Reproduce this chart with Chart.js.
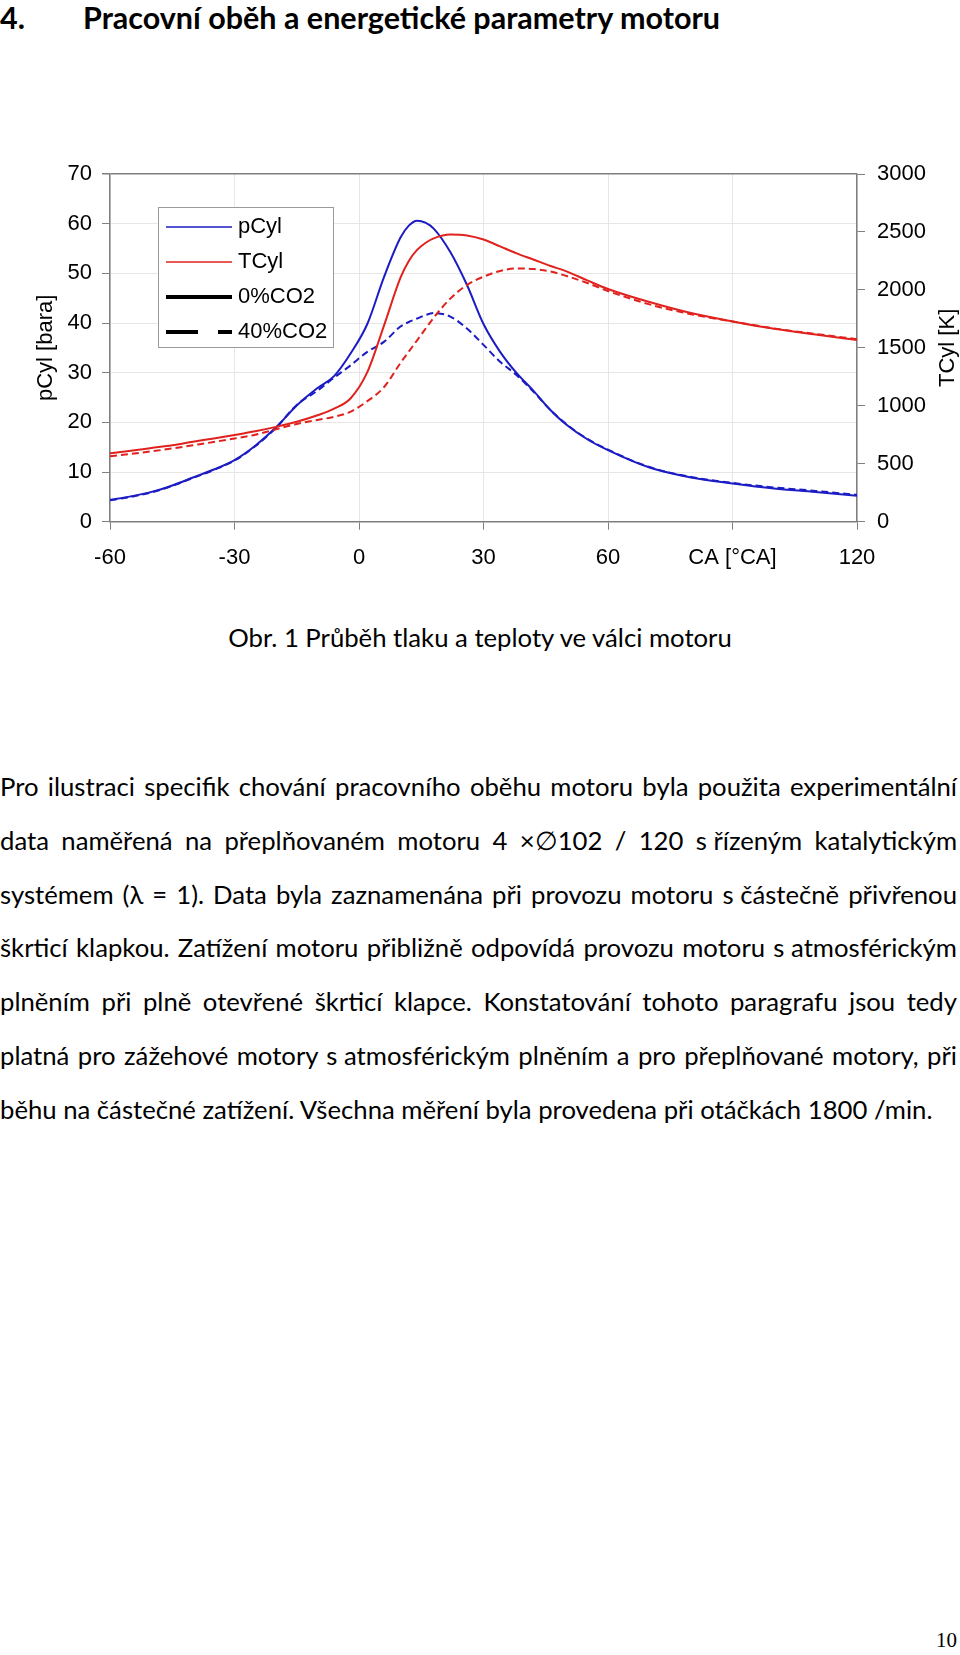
<!DOCTYPE html>
<html lang="cs">
<head>
<meta charset="utf-8">
<title>Pracovní oběh a energetické parametry motoru</title>
<script src="https://cdn.jsdelivr.net/npm/chart.js@4.4.1/dist/chart.umd.min.js"></script>
<style>
  html, body { margin: 0; padding: 0; background: #fff; }
  body { position: relative; width: 960px; height: 1655px; overflow: hidden; font-family: Lato, "Open Sans", sans-serif; color: #000; }
  .heading { position: absolute; top: 0; left: 0; width: 960px; font-weight: bold; font-size: 30.5px; line-height: 34px; }
  .heading .num { position: absolute; left: 0; top: 0; }
  .heading .txt { position: absolute; left: 83px; top: 0; white-space: nowrap; }
  #chartBox { position: absolute; left: 0; top: 140px; width: 960px; height: 440px; }
  .caption { position: absolute; top: 621px; left: 0; width: 960px; text-align: center; font-size: 25.7px; line-height: 32px; }
  .para { position: absolute; left: 0; top: 760px; width: 957px; font-size: 25.7px; line-height: 53.8px; }
  .para div { text-align: justify; text-align-last: justify; }
  .para div.last { text-align: left; text-align-last: left; }
  .para span.nb { display: inline-block; white-space: nowrap; }
  .pageno { position: absolute; right: 3px; top: 1628px; font-family: "Liberation Serif", serif; font-size: 21px; line-height: 24px; }
</style>
</head>
<body>

<div class="heading"><span class="num">4.</span><span class="txt">Pracovní oběh a energetické parametry motoru</span></div>

<div id="chartBox"><canvas id="cycleChart" width="960" height="440"></canvas></div>

<div class="caption">Obr. 1 Průběh tlaku a teploty ve válci motoru</div>

<div class="para">
  <div>Pro ilustraci specifik chování pracovního oběhu motoru byla použita experimentální</div>
  <div>data naměřená na přeplňovaném motoru 4 ×∅102 / 120 <span class="nb">s řízeným</span> katalytickým</div>
  <div>systémem (λ = 1). Data byla zaznamenána při provozu motoru <span class="nb">s částečně</span> přivřenou</div>
  <div>škrticí klapkou. Zatížení motoru přibližně odpovídá provozu motoru <span class="nb">s atmosférickým</span></div>
  <div>plněním při plně otevřené škrticí klapce. Konstatování tohoto paragrafu jsou tedy</div>
  <div>platná pro zážehové motory <span class="nb">s atmosférickým</span> plněním a pro přeplňované motory, při</div>
  <div class="last">běhu na částečné zatížení. Všechna měření byla provedena při otáčkách 1800 /min.</div>
</div>

<div class="pageno">10</div>

<script>
// ============================================
// Průběh tlaku a teploty ve válci
// ============================================

// úhel natočení klikového hřídele [°CA]
const crankAngle = [-60, -55, -50, -45, -40, -35, -30, -25, -20, -15, -10, -6, -2, 2, 6, 10, 12, 14, 16, 18,
                    22, 26, 30, 34, 38, 42, 46, 50, 55, 60, 70, 80, 90, 100, 110, 120];

// tlak ve válci [bara]
const pCyl0 = [4.4, 5.1, 6.0, 7.3, 8.9, 10.5, 12.4, 15.3, 19.0, 23.4, 26.9, 29.3, 33.9, 39.8, 49.2, 57.2, 59.6, 60.6, 60.2, 59.0,
               54.3, 47.7, 39.8, 34.2, 29.9, 26.4, 22.6, 19.5, 16.6, 14.4, 10.9, 8.9, 7.7, 6.7, 6.0, 5.2];
const pCyl40 = [4.3, 5.0, 5.9, 7.2, 8.8, 10.4, 12.3, 15.2, 18.9, 23.5, 26.4, 29.0, 31.5, 34.2, 36.2, 39.3, 40.2, 40.9, 41.6, 42.0,
                41.3, 38.9, 35.6, 32.2, 29.5, 26.2, 22.6, 19.6, 16.7, 14.5, 11.0, 9.0, 7.8, 6.9, 6.2, 5.4];

// teplota ve válci [K]
const tCyl0 = [590, 612, 636, 660, 690, 718, 748, 780, 818, 862, 918, 975, 1065, 1290, 1690, 2105, 2250, 2345, 2405, 2445,
               2478, 2470, 2435, 2375, 2315, 2262, 2208, 2160, 2082, 2008, 1895, 1800, 1728, 1665, 1615, 1567];
const tCyl40 = [565, 585, 607, 632, 660, 688, 718, 750, 798, 843, 878, 905, 950, 1040, 1160, 1370, 1468, 1565, 1663, 1760,
                1925, 2042, 2114, 2163, 2185, 2180, 2160, 2120, 2060, 1990, 1875, 1790, 1728, 1668, 1620, 1575];

const legendLabels = ['pCyl', 'TCyl', '0%CO2', '40%CO2'];
const pTitle = 'pCyl [bara]';
const tTitle = 'TCyl [K]';
const caTitle = 'CA [°CA]';

const BLUE = '#1c1cc4';
const RED = '#e0221e';
const AXIS = '#7f7f7f';
const GRID = '#e6e6e6';
const FONT = '"Liberation Sans", Arial, sans-serif';

function toPoints(values) {
    return crankAngle.map((ca, i) => ({ x: ca, y: values[i] }));
}

// legenda uvnitř grafu
const legendStyles = [
    { color: BLUE, width: 1.5, dash: [] },
    { color: RED, width: 1.5, dash: [] },
    { color: '#000', width: 4, dash: [] },
    { color: '#000', width: 4, dash: [32, 20] }
];

const insideLegend = {
    id: 'insideLegend',
    afterDraw(chart) {
        const ctx = chart.ctx;
        const area = chart.chartArea;
        const bx = area.left + 48, by = area.top + 33, bw = 175, bh = 140;
        ctx.save();
        ctx.fillStyle = '#fff';
        ctx.fillRect(bx, by, bw, bh);
        ctx.strokeStyle = '#9a9a9a';
        ctx.lineWidth = 1;
        ctx.strokeRect(bx + 0.5, by + 0.5, bw, bh);
        ctx.font = '22px ' + FONT;
        ctx.textBaseline = 'middle';
        legendLabels.forEach((label, i) => {
            const st = legendStyles[i];
            const y = by + 20 + i * 35;
            ctx.beginPath();
            ctx.setLineDash(st.dash);
            ctx.strokeStyle = st.color;
            ctx.lineWidth = st.width;
            ctx.moveTo(bx + 8, y);
            ctx.lineTo(bx + 74, y);
            ctx.stroke();
            ctx.setLineDash([]);
            ctx.fillStyle = '#000';
            ctx.fillText(label, bx + 80, y);
        });
        ctx.restore();
    }
};

// popisek pravé osy (čte se zdola nahoru)
const rightTitle = {
    id: 'rightTitle',
    afterDraw(chart) {
        const ctx = chart.ctx;
        const sc = chart.scales.y1;
        ctx.save();
        ctx.translate(sc.right - 12, (chart.chartArea.top + chart.chartArea.bottom) / 2);
        ctx.rotate(-Math.PI / 2);
        ctx.font = '22px ' + FONT;
        ctx.fillStyle = '#000';
        ctx.textAlign = 'center';
        ctx.textBaseline = 'middle';
        ctx.fillText(tTitle, 0, 0);
        ctx.restore();
    }
};

const ctx = document.getElementById('cycleChart');

new Chart(ctx, {
    type: 'line',
    data: {
        datasets: [
            { label: 'TCyl 0%CO2', data: toPoints(tCyl0), yAxisID: 'y1', borderColor: RED, borderWidth: 2 },
            { label: 'TCyl 40%CO2', data: toPoints(tCyl40), yAxisID: 'y1', borderColor: RED, borderWidth: 2, borderDash: [7, 4] },
            { label: 'pCyl 0%CO2', data: toPoints(pCyl0), yAxisID: 'y', borderColor: BLUE, borderWidth: 2 },
            { label: 'pCyl 40%CO2', data: toPoints(pCyl40), yAxisID: 'y', borderColor: BLUE, borderWidth: 2, borderDash: [7, 4] }
        ]
    },
    options: {
        responsive: false,
        animation: false,
        devicePixelRatio: 1,
        layout: { padding: { top: 34, left: 0, right: 0, bottom: 0 } },
        elements: {
            point: { radius: 0 },
            line: { cubicInterpolationMode: 'monotone', fill: false }
        },
        plugins: {
            legend: { display: false },
            tooltip: { enabled: false }
        },
        scales: {
            x: {
                type: 'linear',
                min: -60,
                max: 120,
                afterFit: (s) => { s.height = 58.3; },
                ticks: {
                    stepSize: 30,
                    autoSkip: false,
                    maxRotation: 0,
                    padding: 15,
                    color: '#000',
                    font: { family: FONT, size: 22 },
                    callback: (v) => v === 90 ? caTitle : String(v)
                },
                grid: { color: GRID, tickColor: AXIS, tickLength: 8 },
                border: { color: AXIS, width: 1.5 }
            },
            y: {
                position: 'left',
                min: 0,
                max: 70,
                afterFit: (s) => { s.width = 110; },
                ticks: {
                    stepSize: 10,
                    padding: 10,
                    color: '#000',
                    font: { family: FONT, size: 22 },
                    callback: (v) => String(v)
                },
                grid: {
                    color: (c) => c.tick && c.tick.value === 70 ? AXIS : GRID,
                    lineWidth: (c) => c.tick && c.tick.value === 70 ? 1.5 : 1,
                    tickColor: AXIS,
                    tickLength: 8
                },
                border: { color: AXIS, width: 1.5 },
                title: {
                    display: true,
                    text: pTitle,
                    color: '#000',
                    font: { family: FONT, size: 22 },
                    padding: { top: 32.3, bottom: 0 }
                }
            },
            y1: {
                position: 'right',
                min: 0,
                max: 3000,
                afterFit: (s) => { s.width = 103; },
                ticks: {
                    stepSize: 500,
                    padding: 12,
                    color: '#000',
                    font: { family: FONT, size: 22 },
                    callback: (v) => String(v)
                },
                grid: { drawOnChartArea: false, tickColor: AXIS, tickLength: 8 },
                border: { color: AXIS, width: 1.5 }
            }
        }
    },
    plugins: [insideLegend, rightTitle]
});
</script>
</body>
</html>
